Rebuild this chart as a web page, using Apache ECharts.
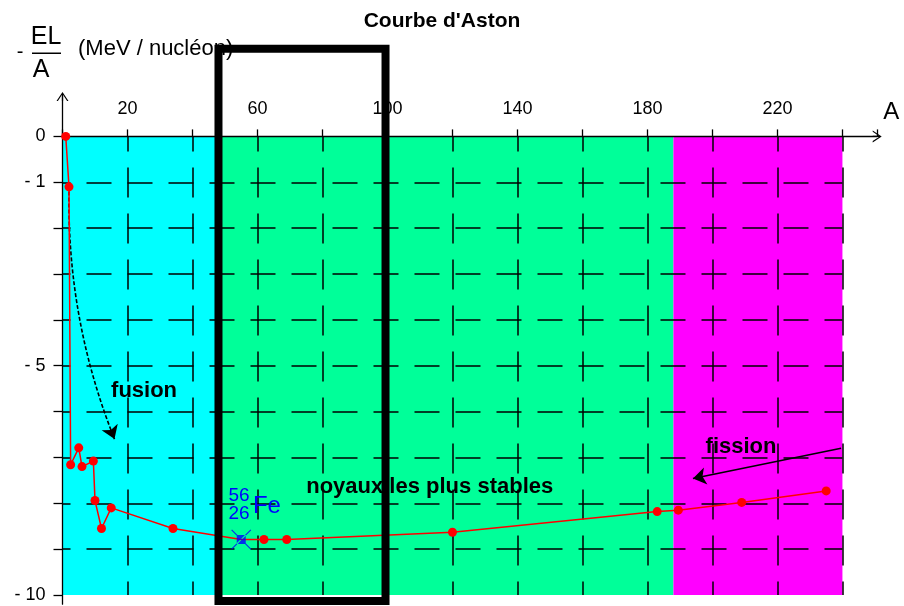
<!DOCTYPE html>
<html><head><meta charset="utf-8">
<script src="https://cdn.jsdelivr.net/npm/echarts@6/dist/echarts.min.js"></script>
<style>html,body{margin:0;padding:0;background:#fff}#c{width:904px;height:606px}</style>
</head><body><div id="c"></div>
<script>
// ---- data ----
const massNumbers   = [1, 2, 2.5, 5, 6, 9.5, 10, 12, 15, 34, 55, 62, 69, 120, 183, 189.5, 209, 235];
const bindingEnergy = [0, -1.1, -7.16, -6.79, -7.2, -7.08, -7.94, -8.55, -8.1, -8.55, -8.79, -8.79, -8.79, -8.63, -8.18, -8.15, -7.98, -7.73];
const ironA = 55;
const ironE = -8.79;
const xTickLabels = [20, 60, 100, 140, 180, 220];
const yTickValues = [0, -1, -2, -3, -4, -5, -6, -7, -8, -9, -10];
const yTickLabels = [0, -1, -5, -10];
const gridX = [20, 40, 60, 80, 100, 120, 140, 160, 180, 200, 220, 240];
const gridY = [-1, -2, -3, -4, -5, -6, -7, -8, -9];
const zoneEdges = [0, 48, 188, 240];
const zoneColors = ['#00FFFF', '#00FF99', '#FF00FF'];
const boxX = [48, 99.4];
const boxY = [1.91, -10.13];
const fusionArrow = [[2, -1.2], [16, -6.6]];
const fissionArrow = [[239.6, -6.8], [194, -7.46]];

const FONT = '"Liberation Sans", Arial, sans-serif';
const arrowPath = 'path://M0,9L6,0L12,9L10.6,9L6,2.1L1.4,9Z M5.4,1L6.6,1L6.6,9L5.4,9Z';

const chart = echarts.init(document.getElementById('c'), null, {renderer: 'canvas'});

const zoneAreas = zoneColors.map((c, i) => [
  {xAxis: zoneEdges[i], yAxis: 0, itemStyle: {color: c, opacity: 1}},
  {xAxis: zoneEdges[i + 1], yAxis: -10}
]);

const gridLines = [];
gridX.forEach(x => gridLines.push([
  {coord: [x, 0], lineStyle: {type: [30, 16], dashOffset: 15}},
  {coord: [x, -10]}
]));
gridY.forEach(y => gridLines.push([
  {coord: [0, y], lineStyle: {type: [25, 16], dashOffset: 17}},
  {coord: [240, y]}
]));

const boxData = [
  [boxX[0], boxY[0]], [boxX[1], boxY[0]], [boxX[1], boxY[1]], [boxX[0], boxY[1]], [boxX[0], boxY[0]]
];

const lineData = massNumbers.map((a, i) => {
  if (a === ironA) return {value: [a, bindingEnergy[i]], symbol: 'none'};
  return [a, bindingEnergy[i]];
});

const textStyleBold = {fontFamily: FONT, fontWeight: 'bold', fontSize: 22, color: '#000'};
const labelPoint = (coord, text, style) => ({
  coord, symbol: 'circle', symbolSize: 1, itemStyle: {color: 'rgba(0,0,0,0)'},
  label: Object.assign({show: true, position: 'inside', formatter: text}, style)
});

const ironMarker = 'path://M5.5,5.5L14.5,5.5L14.5,14.5L5.5,14.5Z M0,0.8L0.8,0L20,19.2L19.2,20Z M20,0.8L19.2,0L0,19.2L0.8,20Z';

const option = {
  animation: false,
  title: {
    text: "Courbe d'Aston", left: 437, top: 6, textAlign: 'center',
    textStyle: {fontFamily: FONT, fontWeight: 'bold', fontSize: 21, color: '#000'}
  },
  grid: {left: 62.5, right: 26.8, top: 96.5, bottom: 1.8, containLabel: false},
  xAxis: {
    type: 'value', min: 0, max: 250.7, interval: 20, position: 'top', z: 3,
    axisLine: {onZero: true, lineStyle: {color: '#000', width: 1.3}, symbol: ['none', arrowPath], symbolSize: [12, 9]},
    axisTick: {show: true, length: 7, lineStyle: {color: '#000', width: 1.3}},
    axisLabel: {show: true, margin: -22, fontFamily: FONT, fontSize: 18, color: '#000',
      formatter: v => xTickLabels.includes(v) ? String(v) : ''},
    splitLine: {show: false},
    name: 'A', nameLocation: 'end', nameGap: 6,
    nameTextStyle: {fontFamily: FONT, fontSize: 24, color: '#000', verticalAlign: 'bottom', padding: [0, 0, 12, 0]}
  },
  yAxis: {
    type: 'value', min: -10.2, max: 0.87, z: 3,
    axisLine: {onZero: true, lineStyle: {color: '#000', width: 1.3}, symbol: ['none', arrowPath], symbolSize: [12, 9]},
    axisTick: {show: true, length: 9, customValues: yTickValues, lineStyle: {color: '#000', width: 1.3}},
    axisLabel: {show: true, margin: 17, fontFamily: FONT, fontSize: 18, color: '#000', customValues: yTickLabels,
      formatter: v => v === 0 ? '0' : '- ' + Math.abs(v)},
    splitLine: {show: false}
  },
  graphic: [
    {type: 'text', style: {text: '-', x: 20, y: 52, align: 'center', verticalAlign: 'middle', font: '20px ' + FONT, fill: '#000'}},
    {type: 'text', style: {text: 'EL', x: 46, y: 37, align: 'center', verticalAlign: 'middle', font: '25px ' + FONT, fill: '#000'}},
    {type: 'rect', shape: {x: 32, y: 52.5, width: 29, height: 1.5}, style: {fill: '#000'}},
    {type: 'text', style: {text: 'A', x: 41, y: 70, align: 'center', verticalAlign: 'middle', font: '25px ' + FONT, fill: '#000'}},
    {type: 'text', style: {text: '(MeV / nucléon)', x: 78, y: 49, align: 'left', verticalAlign: 'middle', font: '22px ' + FONT, fill: '#000'}}
  ],
  series: [
    {
      name: 'zones', type: 'line', data: [], z: 1, silent: true,
      markArea: {silent: true, data: zoneAreas}
    },
    {
      name: 'grid', type: 'line', data: [], z: 2, silent: true,
      markLine: {silent: true, symbol: ['none', 'none'], label: {show: false},
        lineStyle: {color: '#000', width: 1.5, opacity: 1}, data: gridLines}
    },
    {
      name: 'fusionArrow', type: 'lines', coordinateSystem: 'cartesian2d', z: 4, silent: true,
      symbol: ['none', 'arrow'], symbolSize: [11, 13],
      lineStyle: {color: '#000', width: 1.6, type: [4, 2], curveness: -0.1, opacity: 1},
      data: [{coords: fusionArrow}]
    },
    {
      name: 'fissionArrow', type: 'lines', coordinateSystem: 'cartesian2d', z: 4, silent: true,
      symbol: ['none', 'arrow'], symbolSize: [11, 13],
      lineStyle: {color: '#000', width: 1.6, type: 'solid', curveness: 0, opacity: 1},
      data: [{coords: fissionArrow}]
    },
    {
      name: 'Aston', type: 'line', data: lineData, z: 5, silent: true,
      symbol: 'circle', symbolSize: 9, showSymbol: true,
      itemStyle: {color: '#FF0000'}, lineStyle: {color: '#FF0000', width: 1.5}
    },
    {
      name: 'Fe', type: 'scatter', data: [[ironA, ironE]], z: 6, silent: true,
      symbol: ironMarker, symbolSize: 20, itemStyle: {color: '#0000FF'}
    },
    {
      name: 'texts', type: 'scatter', data: [], z: 7, silent: true,
      markPoint: {silent: true, data: [
        labelPoint([25.1, -5.54], 'fusion', textStyleBold),
        labelPoint([208.8, -6.78], 'fission', textStyleBold),
        labelPoint([113, -7.65], 'noyaux les plus stables', textStyleBold),
        labelPoint([54.3, -7.83], '56', {fontFamily: FONT, fontSize: 19, color: '#0000FF'}),
        labelPoint([54.3, -8.22], '26', {fontFamily: FONT, fontSize: 19, color: '#0000FF'}),
        labelPoint([62.9, -8.07], 'Fe', {fontFamily: FONT, fontSize: 24, color: '#0000FF'})
      ]}
    },
    {
      name: 'box', type: 'line', data: boxData, z: 10, silent: true, clip: false,
      symbol: 'none', lineStyle: {color: '#000', width: 8, join: 'miter', cap: 'square'}
    }
  ]
};
chart.setOption(option);
</script>
</body></html>
